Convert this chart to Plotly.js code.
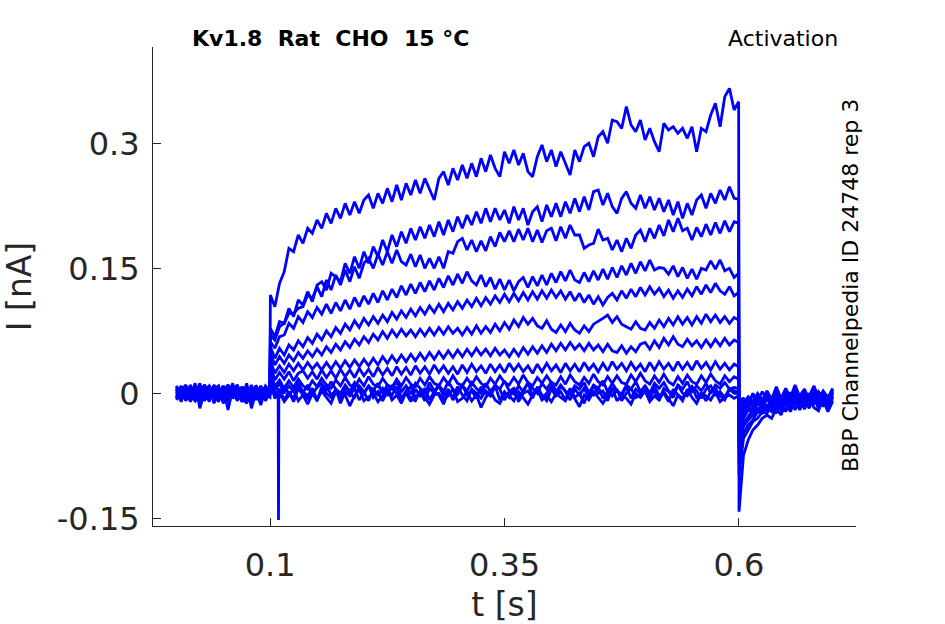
<!DOCTYPE html>
<html>
<head>
<meta charset="utf-8">
<script src="https://cdn.plot.ly/plotly-3.0.1.min.js"></script>
<style>
  html, body { margin: 0; padding: 0; background: #fff; }
  #chart { width: 945px; height: 624px; }
</style>
</head>
<body>
<div id="chart"></div>
<script>
// sample times [s], shared by every sweep
var tGrid = [
  0, 0.005, 0.01, 0.015, 0.02, 0.025, 0.03, 0.035, 0.04, 0.045,
  0.05, 0.055, 0.06, 0.065, 0.07, 0.075, 0.08, 0.085, 0.09, 0.095,
  0.0998,
  0.1002,
  0.105, 0.11, 0.115, 0.12, 0.125, 0.13, 0.135, 0.14, 0.145, 0.15,
  0.155, 0.16, 0.165, 0.17, 0.175, 0.18, 0.185, 0.19, 0.195, 0.2,
  0.205, 0.21, 0.215, 0.22, 0.225, 0.23, 0.235, 0.24, 0.245, 0.25,
  0.255, 0.26, 0.265, 0.27, 0.275, 0.28, 0.285, 0.29, 0.295, 0.3,
  0.305, 0.31, 0.315, 0.32, 0.325, 0.33, 0.335, 0.34, 0.345, 0.35,
  0.355, 0.36, 0.365, 0.37, 0.375, 0.38, 0.385, 0.39, 0.395, 0.4,
  0.405, 0.41, 0.415, 0.42, 0.425, 0.43, 0.435, 0.44, 0.445, 0.45,
  0.455, 0.46, 0.465, 0.47, 0.475, 0.48, 0.485, 0.49, 0.495, 0.5,
  0.505, 0.51, 0.515, 0.52, 0.525, 0.53, 0.535, 0.54, 0.545, 0.55,
  0.555, 0.56, 0.565, 0.57, 0.575, 0.58, 0.585, 0.59, 0.595,
  0.5998, 0.6002,
  0.605, 0.61, 0.615, 0.62, 0.625, 0.63, 0.635, 0.64, 0.645, 0.65,
  0.655, 0.66, 0.665, 0.67, 0.675, 0.68, 0.685, 0.69, 0.695, 0.7
]

// currents in pA: baseline / step on / pulse / step off / tail
var sweepA = [
  5, -8, 9, -3, 12, -18, 2, -10, 8, -2, 6, -9, 3, 10, -5, 0, -12, 8, -3, 5, 3,
  118,
  104, 132, 146, 174, 170, 190, 180, 198, 192, 208,
  198, 216, 204, 222, 210, 228, 214, 230, 216, 232,
  238, 222, 240, 228, 246, 230, 250, 232, 252, 238,
  256, 240, 258, 244, 232, 258, 266, 250, 270, 256,
  274, 258, 276, 260, 282, 266, 286, 270, 260, 290,
  276, 292, 274, 288, 266, 260, 284, 298, 278, 292,
  272, 290, 276, 262, 292, 278, 296, 300, 284, 308,
  314, 300, 328, 326, 318, 344, 322, 314, 328, 304,
  318, 302, 290, 324, 316, 320, 312, 318, 306, 320,
  290, 318, 314, 334, 348, 320, 356, 366, 340,
  350, -142,
  -74, -56, -44, -38, -30, -26, -30, -18, -26, -12, -22, -8, -20, -6, -18, -4, -16, -8, -22, -10
]
var sweepB = [
  -6, 8, -2, 10, -9, 3, -5, 9, -12, 2, 6, -3, 12, -8, 5, -10, 0, 9, -6, 3, -2,
  78,
  68, 86, 84, 102, 92, 112, 106, 122, 110, 130,
  134, 124, 144, 140, 134, 156, 144, 164, 150, 170,
  156, 176, 164, 184, 170, 190, 176, 194, 180, 198,
  184, 200, 186, 202, 188, 206, 190, 208, 194, 212,
  198, 214, 202, 218, 204, 222, 206, 222, 208, 220,
  204, 224, 208, 222, 202, 218, 224, 206, 226, 212,
  228, 212, 230, 216, 234, 218, 236, 220, 242, 244,
  226, 240, 224, 216, 234, 242, 228, 222, 238, 222,
  236, 220, 234, 218, 232, 214, 230, 210, 228, 214,
  232, 238, 222, 240, 228, 244, 232, 248, 234,
  233, -98,
  -54, -44, -34, -30, -22, -24, -14, -24, -10, -22, -8, -20, -6, -19, -4, -17, -21, -5, -16, -8
]
var sweepC = [
  9, -5, 3, -10, 6, 0, 10, -8, 2, -3, 8, -20, 5, 9, -6, 3, -9, 6, 2, -5, 5,
  70,
  64, 80, 84, 96, 96, 102, 104, 118, 114, 128,
  116, 136, 124, 142, 130, 148, 134, 152, 138, 156,
  162, 150, 167, 154, 170, 156, 172, 158, 154, 167,
  152, 166, 150, 162, 150, 164, 150, 170, 168, 182,
  186, 172, 184, 170, 183, 171, 188, 176, 193, 182,
  195, 182, 197, 184, 198, 182, 196, 181, 195, 198,
  183, 200, 186, 202, 190, 190, 174, 178, 180, 197,
  184, 186, 172, 184, 170, 186, 174, 190, 196, 182,
  198, 186, 202, 189, 208, 194, 210, 195, 198, 184,
  199, 188, 203, 190, 205, 192, 207, 194, 206,
  204, -84,
  -48, -38, -32, -22, -24, -16, -22, -12, -20, -8, -18, -6, -16, -4, -17, -3, -19, -6, -20, -5
]
var sweepD = [
  -3, 9, -8, 5, -2, 12, -9, 3, 8, -5, 0, 10, -6, 2, -10, 6, -3, 9, -8, 5, 0,
  62,
  54, 68, 70, 84, 78, 92, 85, 98, 91, 103,
  95, 107, 96, 109, 99, 112, 101, 115, 104, 117,
  107, 120, 109, 123, 112, 125, 115, 129, 118, 131,
  120, 133, 122, 135, 124, 138, 127, 141, 130, 143,
  132, 146, 135, 130, 142, 128, 139, 125, 137, 124,
  136, 123, 134, 139, 127, 140, 129, 142, 130, 144,
  133, 146, 135, 148, 136, 133, 145, 134, 147, 136,
  149, 137, 151, 139, 153, 142, 156, 144, 158, 147,
  160, 148, 151, 150, 143, 153, 140, 151, 138, 149,
  137, 150, 148, 159, 149, 160, 147, 150, 139,
  144, -66,
  -40, -32, -26, -18, -22, -14, -20, -8, -18, -6, -16, -4, -14, -2, -16, -1, -15, -4, -18, -2
]
var sweepE = [
  6, -9, 2, 8, -5, 10, -2, -8, 5, 9, -10, 3, -3, 8, -6, 12, -18, 2, 6, -9, 2,
  56,
  42, 54, 46, 58, 52, 63, 56, 67, 60, 71,
  64, 75, 68, 79, 72, 83, 76, 87, 79, 90,
  82, 92, 84, 94, 86, 97, 89, 99, 91, 101,
  93, 103, 95, 105, 97, 107, 98, 108, 100, 110,
  102, 112, 104, 114, 105, 115, 107, 117, 109, 119,
  110, 120, 111, 121, 112, 122, 113, 123, 114, 124,
  115, 123, 113, 122, 111, 120, 109, 118, 107, 116,
  106, 115, 120, 112, 123, 114, 125, 116, 127, 118,
  128, 119, 126, 116, 124, 114, 123, 115, 125, 117,
  128, 119, 130, 121, 132, 123, 119, 128, 117,
  121, -58,
  -36, -28, -20, -22, -12, -20, -8, -18, -5, -16, -3, -14, -1, -15, 0, -13, -4, -16, -2, -12
]
var sweepF = [
  -8, 3, 10, -5, 6, -9, 2, 9, -3, -10, 5, 0, 8, -6, 3, -2, 10, -8, 5, -3, 6,
  48,
  34, 44, 36, 46, 39, 49, 42, 51, 44, 53,
  46, 56, 49, 59, 52, 62, 55, 65, 58, 68,
  61, 71, 64, 74, 66, 76, 68, 77, 69, 76,
  68, 77, 69, 78, 70, 79, 71, 80, 72, 78,
  70, 79, 71, 81, 72, 80, 73, 83, 75, 85,
  77, 88, 80, 91, 83, 90, 81, 78, 87, 77,
  73, 82, 74, 84, 76, 72, 81, 74, 83, 86,
  90, 94, 85, 92, 83, 80, 77, 86, 78, 76,
  85, 78, 88, 80, 90, 82, 92, 83, 91, 82,
  92, 84, 95, 86, 94, 85, 92, 84, 91,
  88, -48,
  -30, -20, -22, -12, -18, -6, -16, -4, -14, -2, -12, 2, -13, 0, -11, 3, -12, -1, -14, 1
]
var sweepG = [
  5, -6, 9, -2, -9, 3, 8, -5, 10, 0, -8, 6, -3, 9, -10, 2, 5, -6, 8, -2, -5,
  40,
  24, 33, 25, 35, 27, 36, 28, 37, 29, 36,
  28, 37, 29, 38, 30, 39, 31, 40, 32, 41,
  33, 42, 34, 44, 36, 45, 37, 46, 38, 47,
  39, 48, 40, 49, 41, 50, 42, 51, 43, 52,
  44, 53, 45, 54, 46, 53, 45, 54, 46, 52,
  44, 53, 45, 55, 47, 56, 48, 57, 49, 59,
  51, 60, 52, 61, 53, 59, 51, 60, 52, 58,
  50, 59, 51, 49, 57, 48, 56, 50, 59, 61,
  53, 63, 55, 66, 58, 68, 59, 56, 65, 57,
  63, 55, 64, 56, 65, 57, 66, 58, 64,
  61, -40,
  -26, -16, -20, -8, -15, -4, -13, -2, -12, 1, -11, 3, -10, 0, -12, 4, -9, -2, -13, 2
]
var sweepH = [
  -5, 8, -3, 6, -9, 2, 10, -6, 3, -2, 9, -8, 5, -5, 8, 0, -9, 6, -3, 9, 2,
  34,
  16, 25, 17, 26, 15, 24, 27, 18, 26, 17,
  28, 19, 27, 18, 29, 20, 28, 19, 30, 21,
  29, 20, 31, 22, 30, 21, 32, 23, 31, 22,
  33, 24, 32, 23, 34, 25, 33, 24, 32, 23,
  34, 25, 35, 26, 33, 24, 35, 26, 34, 25,
  36, 27, 35, 26, 33, 24, 35, 26, 36, 27,
  34, 25, 36, 27, 35, 26, 37, 28, 35, 26,
  36, 27, 38, 29, 36, 27, 37, 28, 35, 26,
  37, 28, 38, 29, 36, 27, 38, 29, 37, 28,
  39, 30, 37, 28, 38, 29, 36, 28, 35,
  32, -32,
  -22, -12, -16, -6, -13, -3, -11, 0, -10, 3, -9, 5, -8, 2, -10, 6, -7, 0, -11, 4
]
var sweepI = [
  3, -8, 6, -2, 9, -5, 0, 8, -9, 5, -3, 10, -6, 2, 6, -8, 3, -2, 9, -5, 3,
  30,
  8, 16, 6, 15, 7, 17, 9, 5, 15, 8,
  18, 10, 6, 16, 9, 19, 10, 7, 17, 9,
  20, 11, 8, 18, 10, 7, 17, 9, 19, 11,
  8, 18, 10, 20, 12, 9, 19, 11, 21, 12,
  9, 18, 10, 20, 12, 8, 18, 11, 21, 13,
  10, 19, 11, 22, 13, 9, 19, 12, 21, 13,
  10, 20, 11, 22, 14, 10, 19, 12, 23, 14,
  10, 20, 12, 21, 13, 11, 22, 14, 24, 15,
  11, 21, 13, 23, 14, 10, 20, 12, 22, 14,
  11, 21, 13, 23, 15, 11, 21, 14, 20,
  17, -26,
  -18, -9, -13, -4, -10, -1, -9, 2, -8, 5, -7, 7, -6, 4, -9, 9, -5, 1, -8, 6
]
var sweepJ = [
  -2, 6, -9, 3, 8, -5, 10, -3, 0, -8, 5, 9, -6, 2, -10, 6, 3, -5, 8, -2, 0,
  26,
  4, 12, 0, 9, 2, 13, 1, 10, -1, 7,
  12, 3, 14, 5, 0, 10, 2, 13, 6, -1,
  9, 3, 12, 0, 10, 5, 14, 2, 9, -1,
  12, 6, 0, 13, 3, 10, 2, 14, 5, -1,
  9, 3, 13, 6, 0, 12, 2, 10, 5, 15,
  3, -1, 9, 2, 13, 6, 0, 12, 5, 14,
  2, 10, 3, -1, 9, 5, 13, 0, 10, 6,
  15, 2, 12, 3, -1, 10, 5, 14, 2, 9,
  0, 12, 6, 13, 3, -1, 10, 5, 14, 2,
  9, 3, 12, 0, 10, 6, 13, 5, 7,
  6, -20,
  -14, -6, -11, -2, -9, 1, -8, 4, -7, 6, -5, 10, -4, 3, -8, 7, -3, 0, -6, 5
]
var sweepK = [
  8, -3, 5, -9, 2, 6, -6, 9, -2, 3, -8, 0, 10, -5, 5, -9, 2, 8, -3, 6, -2,
  22,
  3, -5, 8, 0, -6, 9, 2, -3, 6, -8,
  5, 10, -2, 3, -6, 8, 0, -5, 9, 2,
  -9, 5, -2, 6, -3, 10, 0, -6, 3, 8,
  -5, 2, -9, 6, 0, 9, -3, 5, -8, 2,
  10, -2, 3, -6, 8, 0, -3, 9, 5, -8,
  2, 6, -5, 3, 12, -2, 5, -6, 0, 8,
  -3, 9, 2, -8, 5, -2, 6, -5, 10, 0,
  3, -9, 6, 2, -3, 8, -6, 5, 0, 9,
  -2, 3, -8, 6, 2, -5, 10, 0, -3, 8,
  3, -6, 5, 9, -2, 2, -5, 6, 3,
  2, -16,
  -12, -4, -10, 0, -8, 3, -7, 8, -6, 1, -4, 6, -9, 2, -3, 8, -7, 3, -5, 4
]
var sweepL = [
  -6, 5, -2, 8, -9, 0, 3, -8, 6, -3, 9, -10, 2, 5, -5, -12, 3, 0, 8, -6, 2,
  18,
  -3, 5, -8, 2, -10, 6, -2, -6, 3, -9,
  8, 0, -5, 5, -12, 2, -3, 6, -8, 0,
  9, -5, 2, -9, 3, -2, 8, -6, 0, -10,
  5, -3, 6, -8, 2, -2, -13, 3, -5, 8,
  -2, -9, 5, 0, -6, 3, -3, 9, -8, 2,
  -5, 6, -10, 0, 3, -6, 8, -2, -9, 5,
  -3, 2, -8, 6, -5, 0, -12, 3, -2, 8,
  -6, 2, -3, 5, -9, 0, 6, -5, -2, 3,
  -8, 9, -3, 0, -10, 5, -2, -6, 3, 8,
  -5, 0, -9, 2, 6, -3, -8, 5, 0,
  0, -12,
  -8, -12, -2, -9, 2, -7, -11, 3, -6, -9, 1, -12, -3, 5, -8, -10, 2, -6, -11, 0
]
var sweepM = [
  2, -10, 6, -5, 3, -8, 9, -2, -6, 5, -12, 0, 3, -9, 8, -3, -6, 2, -14, 5, -3,
  14,
  -6, 2, -10, -3, 5, -9, -2, -13, 0, -8,
  3, -5, -12, 2, -6, -2, -15, -3, 5, -9,
  -5, 0, -10, -3, 6, -8, -2, -12, 2, -6,
  -9, 3, -5, -13, -2, 0, -8, -3, 5, -10,
  -6, 2, -9, -2, -17, -5, 3, -8, -12, 0,
  -3, -9, 2, -6, -13, -2, 5, -8, -3, -10,
  0, -5, -9, 3, -6, -16, -2, -8, 2, -5,
  -12, -3, 6, -9, -2, -6, -13, 0, -5, 3,
  -10, -3, -8, 2, -6, -15, -2, -9, 5, -5,
  -12, 0, -3, -8, 2, -10, -5, -2, -6,
  -3, -8,
  -6, -13, 0, -10, -15, -2, -8, 2, -12, -5, -16, 0, -11, -3, -14, -7, 1, -12, -17, -4
]

// capacitive artefact just after the step on
var spikeT = [0.1085, 0.1089, 0.1093]
var spikeI = [6, -152, 4]

var sweeps = [sweepM, sweepL, sweepK, sweepJ, sweepI, sweepH, sweepG,
              sweepF, sweepE, sweepD, sweepC, sweepB, sweepA]

var xTicks = [0.1, 0.35, 0.6]
var xTickText = ['0.1', '0.35', '0.6']
var yTicks = [-0.15, 0, 0.15, 0.3]
var yTickText = ['-0.15', '0', '0.15', '0.3']

var BLUE = '#0000ff'
var INK = '#262626'
var FONT = 'DejaVu Sans, sans-serif'

function toNA(arr){
    return arr.map(function(v){ return v / 1000 })
}

var traces = []
for (let s of sweeps){
    traces.push({
        x: tGrid,
        y: toNA(s),
        type: 'scatter',
        mode: 'lines',
        line: {color: BLUE, width: 2.8},
        hoverinfo: 'skip'
    })
}
traces.push({
    x: spikeT,
    y: toNA(spikeI),
    type: 'scatter',
    mode: 'lines',
    line: {color: BLUE, width: 2.8},
    hoverinfo: 'skip'
})

var axisCommon = {
    ticks: 'inside',
    ticklen: 8,
    tickwidth: 1,
    tickcolor: INK,
    showline: true,
    linecolor: INK,
    linewidth: 1,
    showgrid: false,
    zeroline: false,
    automargin: false,
    tickfont: {family: FONT, size: 32, color: INK}
}

var layout = {
    width: 945,
    height: 624,
    margin: {l: 153, r: 89, t: 47, b: 98, autoexpand: false},
    paper_bgcolor: '#ffffff',
    plot_bgcolor: '#ffffff',
    showlegend: false,
    hovermode: false,
    xaxis: Object.assign({}, axisCommon, {
        range: [-0.025, 0.725],
        tickmode: 'array',
        tickvals: xTicks,
        ticktext: xTickText,
        ticklabelstandoff: 11,
        title: {text: 't [s]', font: {family: FONT, size: 33, color: INK}, standoff: 11}
    }),
    yaxis: Object.assign({}, axisCommon, {
        range: [-0.1592, 0.4156],
        tickmode: 'array',
        tickvals: yTicks,
        ticktext: yTickText,
        ticklabelstandoff: 6,
        title: {text: 'I [nA]', font: {family: FONT, size: 33, color: INK}, standoff: 26}
    }),
    annotations: [
        {
            text: '<b>Kv1.8\u00a0\u00a0Rat\u00a0\u00a0CHO\u00a0\u00a015\u00a0°C</b>',
            xref: 'paper', yref: 'paper', x: 0.0526, y: 1,
            xanchor: 'left', yanchor: 'bottom', yshift: -6,
            showarrow: false,
            font: {family: FONT, size: 22, color: '#000000'}
        },
        {
            text: 'Activation',
            xref: 'paper', yref: 'paper', x: 0.9772, y: 1,
            xanchor: 'right', yanchor: 'bottom', yshift: -6,
            showarrow: false,
            font: {family: FONT, size: 22, color: '#000000'}
        },
        {
            text: 'BBP Channelpedia ID 24748 rep 3',
            xref: 'paper', yref: 'paper', x: 0.9915, y: 0.501,
            xanchor: 'center', yanchor: 'middle', textangle: -90,
            showarrow: false,
            font: {family: FONT, size: 22, color: '#000000'}
        }
    ]
}

Plotly.newPlot('chart', traces, layout, {displayModeBar: false, staticPlot: true})
</script>
</body>
</html>
